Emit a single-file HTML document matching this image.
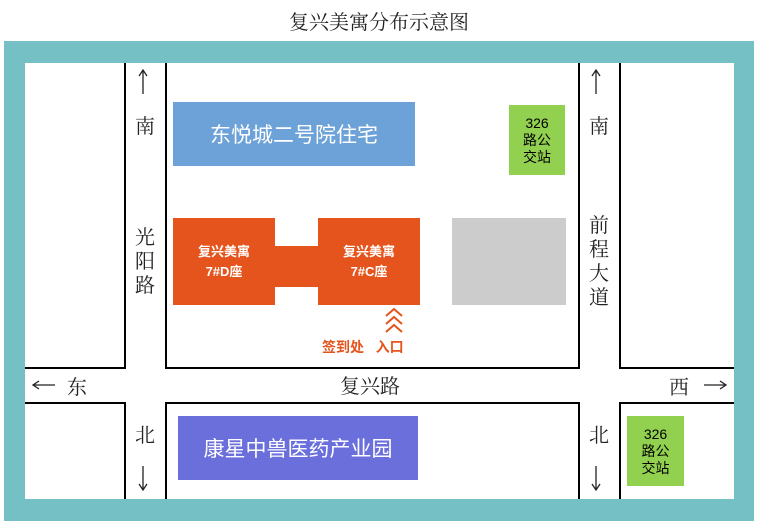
<!DOCTYPE html><html><head><meta charset="utf-8"><style>
body{margin:0;width:758px;height:524px;background:#fff;position:relative;font-family:"Liberation Sans","Noto Sans CJK SC",sans-serif;overflow:hidden}
div{position:absolute;box-sizing:border-box}
.t{white-space:nowrap;text-align:center;font-family:"Liberation Serif","Noto Serif CJK SC",serif;color:#222}
.blk{background:#fff;border:0 solid #000}
.c{display:flex;align-items:center;justify-content:center;text-align:center}
</style></head><body>
<div class="t" style="left:0;width:758px;top:6px;font-size:20px">复兴美寓分布示意图</div>
<div style="left:4px;top:41px;width:750px;height:480px;background:#74c0c4"></div>
<div style="left:25px;top:63px;width:709px;height:436px;background:#fff"></div>
<div class="blk" style="left:25px;top:63px;width:101px;height:306px;border-right-width:2px;border-bottom-width:2px"></div>
<div class="blk" style="left:165px;top:63px;width:415px;height:306px;border-width:0 2px 2px 2px"></div>
<div class="blk" style="left:619px;top:63px;width:115px;height:306px;border-left-width:2px;border-bottom-width:2px"></div>
<div class="blk" style="left:25px;top:402px;width:101px;height:97px;border-right-width:2px;border-top-width:2px"></div>
<div class="blk" style="left:165px;top:402px;width:415px;height:97px;border-width:2px 2px 0 2px"></div>
<div class="blk" style="left:619px;top:402px;width:115px;height:97px;border-left-width:2px;border-top-width:2px"></div>
<div class="c" style="left:173px;top:102px;width:242px;height:64px;background:#6ca2d8;color:#fff;font-size:21px">东悦城二号院住宅</div>
<div class="c" style="left:509px;top:105px;width:56px;height:70px;background:#92d050;font-size:14px;line-height:17px">326<br>路公<br>交站</div>
<div class="c" style="left:627px;top:416px;width:57px;height:70px;background:#92d050;font-size:14px;line-height:17px">326<br>路公<br>交站</div>
<div style="left:275px;top:246px;width:43px;height:41px;background:#e5541c"></div>
<div class="c" style="left:173px;top:218px;width:102px;height:87px;background:#e5541c;color:#fff;font-weight:bold;font-size:13px;line-height:20px">复兴美寓<br>7#D座</div>
<div class="c" style="left:318px;top:218px;width:102px;height:87px;background:#e5541c;color:#fff;font-weight:bold;font-size:13px;line-height:20px">复兴美寓<br>7#C座</div>
<div style="left:452px;top:218px;width:114px;height:87px;background:#cccccc"></div>
<div class="c" style="left:178px;top:416px;width:240px;height:64px;background:#6b6fdb;color:#fff;font-size:21px">康星中兽医药产业园</div>
<svg style="position:absolute;left:383px;top:306px" width="22" height="30"><g fill="none" stroke="#e5541c" stroke-width="2"><path d="M3 10 L11 3 L19 10"/><path d="M3 18 L11 11 L19 18"/><path d="M3 26 L11 19 L19 26"/></g></svg>
<div style="left:322px;top:337px;font-size:14px;font-weight:bold;color:#e5541c;white-space:nowrap">签到处&nbsp;&nbsp;&nbsp;入口</div>
<svg style="position:absolute;left:0;top:0" width="758" height="524"><g fill="none" stroke="#222" stroke-width="1.3">
<path d="M143 70 V94 M139 76 L143 70 L147 76"/>
<path d="M143 466 V490 M139 484 L143 490 L147 484"/>
<path d="M596 70 V94 M592 76 L596 70 L600 76"/>
<path d="M596 466 V490 M592 484 L596 490 L600 484"/>
<path d="M33 385 H55 M39 381 L33 385 L39 389"/>
<path d="M704 385 H726 M720 381 L726 385 L720 389"/>
</g></svg>
<div class="t" style="left:130px;width:30px;top:110px;font-size:20px">南</div>
<div class="t" style="left:130px;width:30px;top:226px;font-size:20px;line-height:24px">光<br>阳<br>路</div>
<div class="t" style="left:130px;width:30px;top:419px;font-size:20px">北</div>
<div class="t" style="left:584px;width:30px;top:110px;font-size:20px">南</div>
<div class="t" style="left:584px;width:30px;top:214px;font-size:20px;line-height:24px">前<br>程<br>大<br>道</div>
<div class="t" style="left:584px;width:30px;top:419px;font-size:20px">北</div>
<div class="t" style="left:67px;top:371px;font-size:20px">东</div>
<div class="t" style="left:320px;width:100px;top:370px;font-size:20px">复兴路</div>
<div class="t" style="left:669px;top:371px;font-size:20px">西</div>
</body></html>
